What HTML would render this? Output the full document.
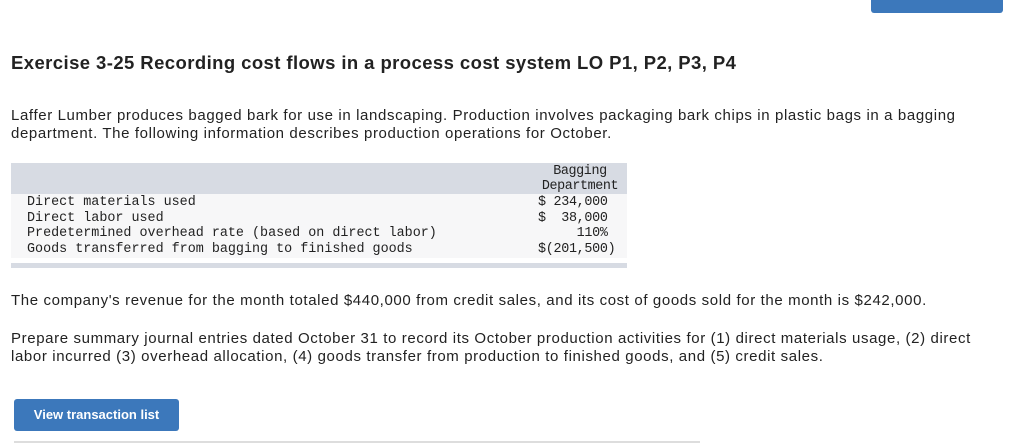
<!DOCTYPE html>
<html><head><style>
body{margin:0;width:1024px;height:445px;background:#fff;position:relative;overflow:hidden;font-family:"Liberation Sans",sans-serif;color:#222}
.a{position:absolute}
.m{font-family:"Liberation Mono",monospace;font-size:13.4px;color:#222}
p{margin:0}
.t{font-size:15px;letter-spacing:0.62px}
</style></head><body>
<div class="a" style="left:871px;top:-6px;width:132px;height:19px;background:#3c78bb;border-radius:3px"></div>
<div class="a" style="left:11px;top:52px;font-size:18.5px;font-weight:bold;color:#222;letter-spacing:0.42px">Exercise 3-25 Recording cost flows in a process cost system LO P1, P2, P3, P4</div>
<div class="a t" style="left:11px;top:107px;line-height:18px;width:960px">Laffer Lumber produces bagged bark for use in landscaping. Production involves packaging bark chips in plastic bags in a bagging department. The following information describes production operations for October.</div>
<div class="a" style="left:11px;top:163px;width:616px;height:31px;background:#d7dbe3"></div>
<div class="a" style="left:11px;top:194px;width:616px;height:64px;background:#f7f7f8"></div>
<div class="a" style="left:11px;top:263px;width:616px;height:5px;background:#d7dbe3"></div>
<div class="a m" style="left:534px;top:164px;width:92px;text-align:center;line-height:15px;letter-spacing:-0.4px">Bagging<br>Department</div>
<div class="a m" style="left:27px;top:195px;line-height:15.5px">Direct materials used<br>Direct labor used<br>Predetermined overhead rate (based on direct labor)<br>Goods transferred from bagging to finished goods</div>
<div class="a m" style="left:538px;top:195px;line-height:15.5px;white-space:pre;letter-spacing:-0.3px">$ 234,000
$  38,000
     110%
$(201,500)</div>
<div class="a t" style="left:11px;top:292px">The company's revenue for the month totaled $440,000 from credit sales, and its cost of goods sold for the month is $242,000.</div>
<div class="a t" style="left:11px;top:330px;line-height:18px;width:960px">Prepare summary journal entries dated October 31 to record its October production activities for (1) direct materials usage, (2) direct labor incurred (3) overhead allocation, (4) goods transfer from production to finished goods, and (5) credit sales.</div>
<div class="a" style="left:14px;top:399px;width:165px;height:32px;background:#3c78bb;border-radius:3px;color:#fff;font-size:13px;font-weight:bold;text-align:center;line-height:32px">View transaction list</div>
<div class="a" style="left:14px;top:441px;width:686px;height:2px;background:#ddd"></div>
</body></html>
